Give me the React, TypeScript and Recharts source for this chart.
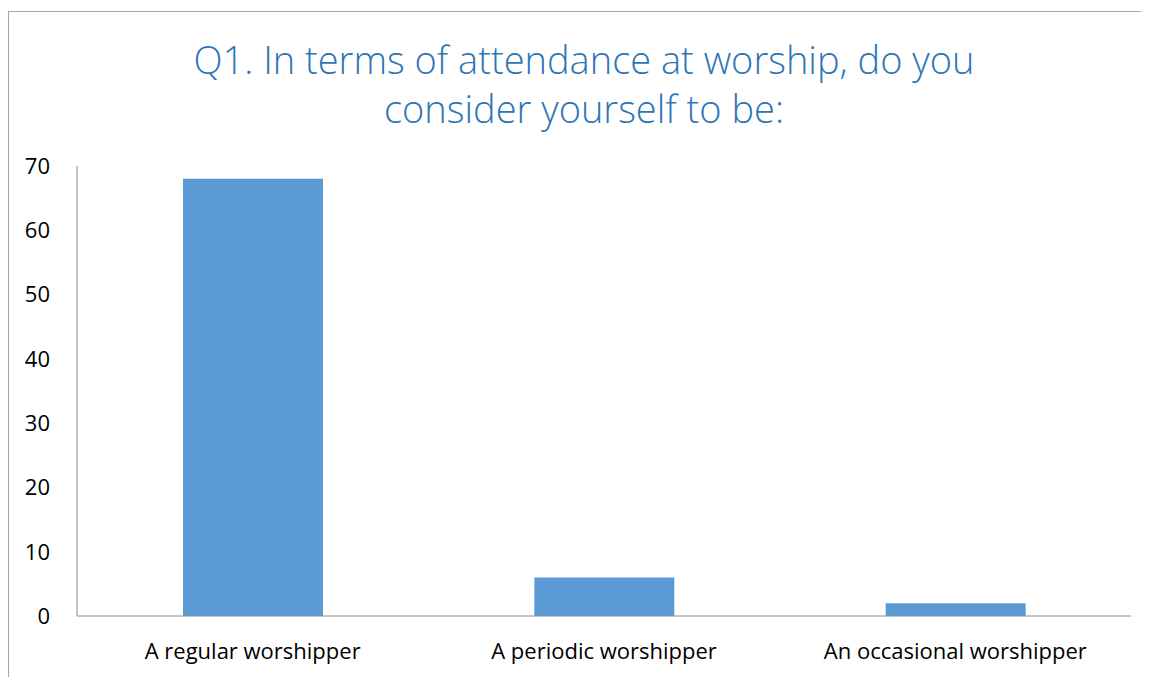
import React from 'react'
import { BarChart, Bar, XAxis, YAxis } from 'recharts'

const categories = ['A regular worshipper', 'A periodic worshipper', 'An occasional worshipper']
const counts = [68, 6, 2]
const yTicks = [0, 10, 20, 30, 40, 50, 60, 70]

const titleLines = ['Q1. In terms of attendance at worship, do you', 'consider yourself to be:']

export default function App() {
  const data = categories.map((name, i) => ({ name, count: counts[i] }))

  return (
    <div
      style={{
        position: 'relative',
        marginTop: 3,
        width: 1200,
        height: 700,
        borderTop: '1px solid #a6a6a6',
        borderLeft: '1px solid #a6a6a6',
        fontFamily: 'Open Sans, sans-serif',
      }}
    >
      <div
        style={{
          position: 'absolute',
          left: 0,
          top: 23,
          width: 1150,
          textAlign: 'center',
          color: '#2e75b6',
          fontSize: 38,
          fontWeight: 300,
          lineHeight: '49px',
        }}
      >
        {titleLines.map((l) => (
          <div key={l}>{l}</div>
        ))}
      </div>
      <BarChart
        width={1140}
        height={665}
        data={data}
        margin={{ top: 154, right: 18, bottom: 11, left: 0 }}
      >
        <XAxis
          dataKey="name"
          stroke="#8c8c8c"
          tickLine={false}
          tickSize={0}
          tickMargin={27}
          height={50}
          tick={{ fill: '#000', fontSize: 22, fontFamily: 'Open Sans, sans-serif' }}
        />
        <YAxis
          domain={[0, 70]}
          ticks={yTicks}
          width={68}
          stroke="#8c8c8c"
          tickLine={false}
          tickSize={0}
          tickMargin={27}
          tick={{ fill: '#000', fontSize: 22, fontFamily: 'Open Sans, sans-serif' }}
        />
        <Bar dataKey="count" fill="#5b9bd5" barSize={140} isAnimationActive={false} />
      </BarChart>
    </div>
  )
}
